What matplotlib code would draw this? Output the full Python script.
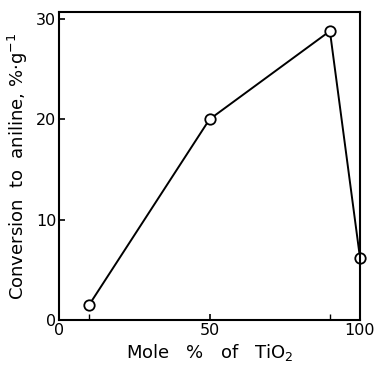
import matplotlib.pyplot as plt

# Data
mole_pct_tio2 = [10, 50, 90, 100]
conversion = [1.5, 20.0, 28.8, 6.2]
x_ticks = [0, 50, 100]
y_ticks = [0, 10, 20, 30]

fig = plt.figure(figsize=(3.75, 3.68), dpi=100)
ax = fig.add_axes([59 / 375, 48 / 368, 301 / 375, 308 / 368])

ax.plot(mole_pct_tio2, conversion, color='black', linewidth=1.4,
        marker='o', markersize=7.5, markerfacecolor='white',
        markeredgecolor='black', markeredgewidth=1.3, clip_on=False)

ax.set_xlim(0, 100)
ax.set_ylim(0, 30.7)
ax.set_xticks(x_ticks)
ax.set_yticks(y_ticks)
ax.set_xticks([10, 90], minor=True)
ax.tick_params(direction='in', length=4, width=1.2, labelsize=11.5, pad=2)
ax.tick_params(which='minor', direction='in', length=4, width=1)
for s in ax.spines.values():
    s.set_linewidth(1.5)

ax.set_xlabel('Mole   %   of   TiO$_2$', fontsize=13, labelpad=3)
ax.set_ylabel('Conversion  to  aniline, %·g$^{-1}$', fontsize=13, labelpad=4)

fig.savefig('out.png', dpi=100)
